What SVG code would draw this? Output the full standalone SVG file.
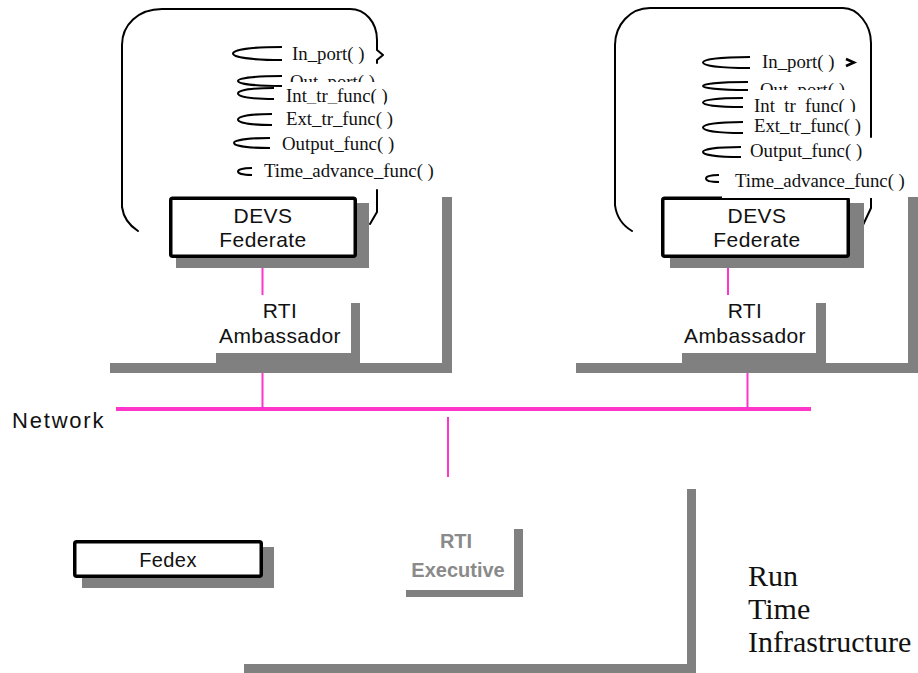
<svg xmlns="http://www.w3.org/2000/svg" width="918" height="673" viewBox="0 0 918 673">
  <style>
    .frame { fill: none; stroke: #000; stroke-width: 2; stroke-linecap: round; stroke-linejoin: round; }
    .arc { fill: none; stroke: #000; stroke-width: 2; }
    .box { fill: #fff; stroke: #000; stroke-width: 3.5; }
    .shadow { fill: #808080; }
    .bg { fill: #fff; }
    .net { stroke: #ff36c9; stroke-width: 2; fill: none; }
    .sans { font-family: "Liberation Sans", Arial, sans-serif; font-size: 21px; letter-spacing: 0.4px; fill: #111; text-anchor: middle; }
    .fn { font-family: "Liberation Serif", "Times New Roman", serif; font-size: 18.8px; fill: #111; }
    .exec { font-family: "Liberation Sans", Arial, sans-serif; font-size: 20px; font-weight: bold; fill: #8a8a8a; text-anchor: middle; }
    .rti { font-family: "Liberation Serif", "Times New Roman", serif; font-size: 30px; fill: #111; }
  </style>

  <!-- Infrastructure shadow bars (grey L shapes) -->
  <g id="rti-bars">
    <rect class="shadow" x="442" y="197" width="10" height="176"/>
    <rect class="shadow" x="110" y="363" width="342" height="10"/>
    <rect class="shadow" x="908" y="197" width="10" height="176"/>
    <rect class="shadow" x="576" y="363" width="342" height="10"/>
    <rect class="shadow" x="687" y="489" width="9" height="184"/>
    <rect class="shadow" x="244" y="664" width="452" height="9"/>
  </g>

  <!-- Left federate: DEVS model frame with its functions -->
  <g id="model-left">
    <g id="fn-left-in">
      <path class="arc" d="M282,47 C250,47 233,50 233,53.5 C233,57 250,60 282,60"/>
      <text class="fn" x="292" y="60">In_port( )</text>
    </g>
    <g id="fn-left-out">
      <path class="arc" d="M282,76 C254,76 238,78.5 238,81 C238,83.5 254,86 282,86"/>
      <text class="fn" x="290" y="88">Out_port( )</text>
    </g>
    <g id="fn-left-int">
      <rect class="bg" x="284" y="82" width="100" height="21.5"/>
      <path class="arc" d="M274,88 C250,88 238,90.5 238,93.5 C238,96.5 250,99 274,99"/>
      <text class="fn" x="286" y="102">Int_tr_func( )</text>
    </g>
    <g id="fn-left-ext">
      <rect class="bg" x="284" y="103.5" width="100" height="24"/>
      <path class="arc" d="M272,114 C250,114 238,116.5 238,119.5 C238,122.5 250,125 272,125"/>
      <text class="fn" x="286" y="125">Ext_tr_func( )</text>
    </g>
    <g id="fn-left-output">
      <path class="arc" d="M270,138 C247,138 234,140.5 234,143 C234,145.5 247,148 270,148"/>
      <text class="fn" x="282" y="150">Output_func( )</text>
    </g>
    <g id="fn-left-time">
      <path class="arc" d="M252,168 C243,168 238,169.5 238,171.5 C238,173.5 243,175 252,175"/>
      <text class="fn" x="264" y="177">Time_advance_func( )</text>
    </g>
    <path class="frame" d="M122,207 L122,45 C122,25 138,9 162,9 L350,9 C365,9 377,22 377,40 L377,50 L383,55 L377,60 L377,63"/>
    <path class="frame" d="M122,207 Q124,222 138,231"/>
    <path class="frame" d="M377,190 L377,212 L370,224"/>
  </g>

  <!-- Right federate: DEVS model frame with its functions -->
  <g id="model-right">
    <g id="fn-right-in">
      <path class="arc" d="M750,57 C720,57 703,59.5 703,62.5 C703,65.5 720,68 750,68"/>
      <text class="fn" x="762" y="68">In_port( )</text>
      <path d="M846,59 L854,62.5 L846,66" fill="none" stroke="#000" stroke-width="2.5"/>
    </g>
    <g id="fn-right-out">
      <path class="arc" d="M748,82 C719,82 703,84 703,86 C703,88 719,90 748,90"/>
      <text class="fn" x="760" y="96">Out_port( )</text>
    </g>
    <g id="fn-right-int">
      <rect class="bg" x="752" y="90" width="117" height="22"/>
      <path class="arc" d="M743,98 C717,98 703,100 703,102.5 C703,105 717,107 743,107"/>
      <text class="fn" x="754" y="112">Int_tr_func( )</text>
    </g>
    <g id="fn-right-ext">
      <rect class="bg" x="752" y="112" width="117" height="25"/>
      <path class="arc" d="M743,122 C717,122 703,124.5 703,127.5 C703,130.5 717,133 743,133"/>
      <text class="fn" x="754" y="132">Ext_tr_func( )</text>
    </g>
    <g id="fn-right-output">
      <path class="arc" d="M741,147 C716,147 703,149.5 703,152 C703,154.5 716,157 741,157"/>
      <text class="fn" x="750" y="157">Output_func( )</text>
    </g>
    <path class="frame" d="M615,205 L615,45 C615,25 630,8 650,8 L843,8 C858,8 871,25 871,43 L871,137"/>
    <path class="frame" d="M615,205 Q617,222 632,231"/>
    <path class="frame" d="M871,197 L871,208 L863,225"/>
  </g>

  <!-- DEVS federates -->
  <g id="federate-left">
    <rect class="shadow" x="176" y="203" width="193" height="65"/>
    <rect class="box" x="170.75" y="198.25" width="184.5" height="58" rx="2"/>
    <text class="sans" x="263" y="223">DEVS</text>
    <text class="sans" x="263" y="247">Federate</text>
  </g>
  <g id="federate-right">
    <rect class="shadow" x="670" y="203" width="194" height="65"/>
    <rect class="box" x="662.75" y="198.25" width="185.5" height="58" rx="2"/>
    <text class="sans" x="757" y="223">DEVS</text>
    <text class="sans" x="757" y="247">Federate</text>
    <g id="fn-right-time">
      <rect class="bg" x="722" y="168" width="186" height="30"/>
      <path class="arc" d="M719,175 C710,175 706,176.5 706,178.5 C706,180.5 710,182 719,182"/>
      <text class="fn" x="735" y="187">Time_advance_func( )</text>
    </g>
  </g>

  <!-- RTI ambassadors -->
  <g id="ambassador-left">
    <rect class="shadow" x="351" y="303" width="9" height="60"/>
    <rect class="shadow" x="216" y="353" width="144" height="10"/>
    <text class="sans" x="280" y="318">RTI</text>
    <text class="sans" x="280" y="343">Ambassador</text>
  </g>
  <g id="ambassador-right">
    <rect class="shadow" x="816" y="303" width="10" height="60"/>
    <rect class="shadow" x="682" y="353" width="144" height="10"/>
    <text class="sans" x="745" y="318">RTI</text>
    <text class="sans" x="745" y="343">Ambassador</text>
  </g>

  <!-- Fedex -->
  <g id="fedex">
    <rect class="shadow" x="82" y="547" width="192" height="41"/>
    <rect class="box" x="74.75" y="541.75" width="186.5" height="34.5" rx="2"/>
    <text class="sans" x="168" y="567" style="font-size:20px">Fedex</text>
  </g>

  <!-- RTI executive -->
  <g id="rti-executive">
    <rect class="shadow" x="514" y="529" width="9" height="68"/>
    <rect class="shadow" x="406" y="590" width="117" height="7"/>
    <text class="exec" x="456" y="548">RTI</text>
    <text class="exec" x="458" y="577">Executive</text>
  </g>

  <!-- Network connections -->
  <g id="connectors">
    <line x1="116" y1="409" x2="811" y2="409" stroke="#ff36c9" stroke-width="4"/>
    <path class="net" d="M262.5,268 V295 M262.5,373 V407"/>
    <path class="net" d="M728,268 V295 M747.5,373 V407"/>
    <path class="net" d="M448,417 V477"/>
  </g>

  <text x="12" y="428" style="font-family:'Liberation Sans', Arial, sans-serif; font-size:22px; letter-spacing:1.8px; fill:#111">Network</text>

  <g id="rti-label">
    <text class="rti" x="748" y="586">Run</text>
    <text class="rti" x="748" y="619">Time</text>
    <text class="rti" x="748" y="652">Infrastructure</text>
  </g>
</svg>
